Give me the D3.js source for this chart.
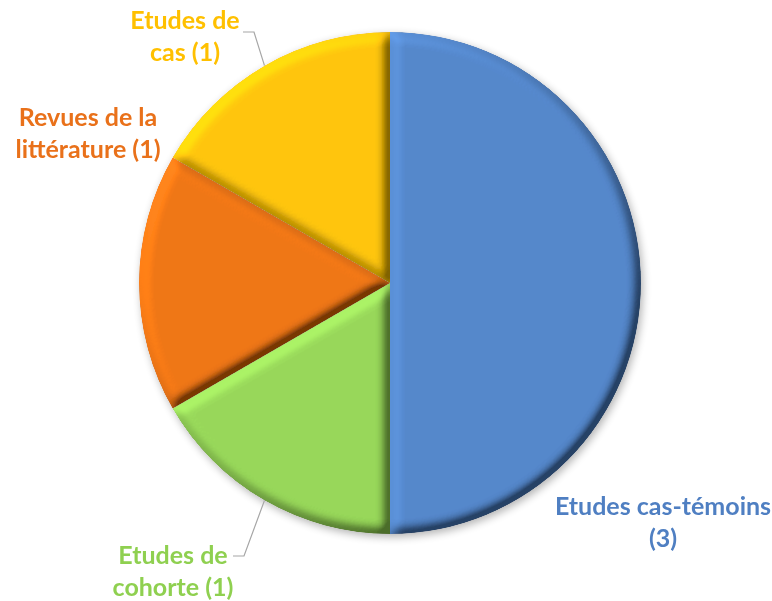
<!DOCTYPE html>
<html>
<head>
<meta charset="utf-8">
<script src="https://cdn.jsdelivr.net/npm/d3@7"></script>
<style>
  body { margin: 0; background: #fff; }
  svg text { font-family: Lato, "Open Sans", sans-serif; font-weight: bold; }
</style>
</head>
<body>
<div id="chart"></div>
<script>
// data
var categories = ['Etudes cas-témoins', 'Etudes de cohorte', 'Revues de la littérature', 'Etudes de cas']
var counts = [3, 1, 1, 1]
var firstLineWords = [2, 2, 3, 2]   // where the label wraps

var sliceColors = ['#5588cc', '#98d85a', '#f07716', '#ffc60a']
var textColors = ['#4f7fc2', '#8fd050', '#e9711a', '#ffc000']

// label layout (centre x, first baseline y, leader elbow or null)
var labelLayout = [
    { x: 663, y: 515, leader: null },
    { x: 173, y: 564, leader: [[233, 556], [244, 556]] },
    { x: 88, y: 126, leader: null },
    { x: 185, y: 29, leader: [[243, 32], [254, 32]] }
]

var width = 772,
    height = 601,
    cx = 390,
    cy = 283,
    radius = 251

var svg = d3.select('#chart')
    .append('svg')
    .attr('width', width)
    .attr('height', height)

var defs = svg.append('defs')

// bevel look, light from the top left
var bevel = defs.append('filter')
    .attr('id', 'bevel')
    .attr('x', '-10%').attr('y', '-10%')
    .attr('width', '120%').attr('height', '120%')
bevel.append('feGaussianBlur')
    .attr('in', 'SourceAlpha')
    .attr('stdDeviation', 6)
    .attr('result', 'blur')
var light = bevel.append('feDiffuseLighting')
    .attr('in', 'blur')
    .attr('surfaceScale', 10)
    .attr('diffuseConstant', 1)
    .attr('lighting-color', '#ffffff')
    .attr('result', 'light')
light.append('feDistantLight')
    .attr('azimuth', 225)
    .attr('elevation', 45)
bevel.append('feComposite')
    .attr('in', 'SourceGraphic')
    .attr('in2', 'light')
    .attr('operator', 'arithmetic')
    .attr('k1', 1.1).attr('k2', 0.22).attr('k3', 0).attr('k4', 0)
    .attr('result', 'lit')
bevel.append('feComposite')
    .attr('in', 'lit')
    .attr('in2', 'SourceAlpha')
    .attr('operator', 'in')

var shadow = defs.append('filter')
    .attr('id', 'shadow')
    .attr('x', '-10%').attr('y', '-10%')
    .attr('width', '120%').attr('height', '120%')
shadow.append('feGaussianBlur')
    .attr('in', 'SourceAlpha')
    .attr('stdDeviation', 4)
    .attr('result', 'sb')
shadow.append('feOffset')
    .attr('in', 'sb')
    .attr('dx', 2).attr('dy', 3)
    .attr('result', 'so')
shadow.append('feComponentTransfer')
    .attr('in', 'so')
    .attr('result', 'sf')
    .append('feFuncA').attr('type', 'linear').attr('slope', 0.3)
var merge = shadow.append('feMerge')
merge.append('feMergeNode').attr('in', 'sf')
merge.append('feMergeNode').attr('in', 'SourceGraphic')

var pie = d3.pie().sort(null).value(function(d) { return d })
var arcs = pie(counts)

var arc = d3.arc().innerRadius(0).outerRadius(radius)

var g = svg.append('g')
    .attr('transform', 'translate(' + cx + ',' + cy + ')')
    .attr('filter', 'url(#shadow)')

g.selectAll('path')
    .data(arcs)
    .enter()
    .append('path')
    .attr('class', 'slice')
    .attr('d', arc)
    .attr('fill', function(d, i) { return sliceColors[i] })
    .attr('filter', 'url(#bevel)')

// leader lines to the outer edge of the slice
var edge = d3.arc().innerRadius(radius).outerRadius(radius)
arcs.forEach(function(d, i) {
    var lay = labelLayout[i]
    if (!lay.leader) return
    var p = edge.centroid(d)
    var pts = lay.leader.concat([[p[0] + cx, p[1] + cy]])
    svg.append('path')
        .attr('d', d3.line()(pts))
        .attr('fill', 'none')
        .attr('stroke', '#a6a6a6')
        .attr('stroke-width', 1.2)
})

// labels
categories.forEach(function(c, i) {
    var words = (c + ' (' + counts[i] + ')').split(' ')
    var lines = [words.slice(0, firstLineWords[i]).join(' '), words.slice(firstLineWords[i]).join(' ')]
    var t = svg.append('text')
        .attr('text-anchor', 'middle')
        .attr('fill', textColors[i])
        .style('font-size', '25px')
    lines.forEach(function(l, j) {
        t.append('tspan')
            .attr('x', labelLayout[i].x)
            .attr('y', labelLayout[i].y + j * 31.5)
            .text(l)
    })
})
</script>
</body>
</html>
